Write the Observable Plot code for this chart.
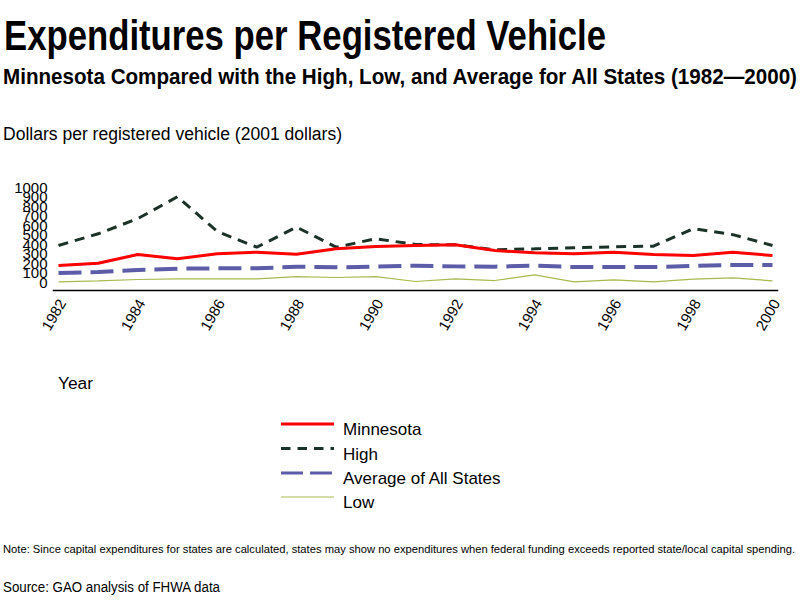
<!DOCTYPE html>
<html>
<head>
<meta charset="utf-8">
<script src="https://cdn.jsdelivr.net/npm/d3@7"></script>
<script src="https://cdn.jsdelivr.net/npm/@observablehq/plot@0.6"></script>
<style>
  html, body { margin: 0; padding: 0; background: #fff; }
  body { width: 800px; height: 600px; position: relative; overflow: hidden; font-family: "Liberation Sans", Arial, sans-serif; color: #000; }
  .t { position: absolute; white-space: nowrap; line-height: 1; transform-origin: 0 0; }
  #chart { position: absolute; left: 0; top: 170px; }
  #legend { position: absolute; left: 0; top: 410px; }
</style>
</head>
<body>
<div class="t" id="title" data-x="4" data-base="51" data-size="42" data-w="602" style="font-weight:bold">Expenditures per Registered Vehicle</div>
<div class="t" id="subtitle" data-x="3" data-base="85" data-size="22" data-w="794" style="font-weight:bold">Minnesota Compared with the High, Low, and Average for All States (1982—2000)</div>
<div class="t" id="ylabel" data-x="3" data-base="140" data-size="18" data-w="339">Dollars per registered vehicle (2001 dollars)</div>
<div class="t" id="xlabel" data-x="58" data-base="390" data-size="16" data-w="35">Year</div>
<div class="t" id="note" data-x="3" data-base="553" data-size="11" data-w="792">Note: Since capital expenditures for states are calculated, states may show no expenditures when federal funding exceeds reported state/local capital spending.</div>
<div class="t" id="source" data-x="3" data-base="592" data-size="14" data-w="217">Source: GAO analysis of FHWA data</div>
<div id="chart"></div>
<div id="legend"></div>
<script>
const years = [1982,1983,1984,1985,1986,1987,1988,1989,1990,1991,1992,1993,1994,1995,1996,1997,1998,1999,2000];
const minnesota = [184,208,300,255,307,324,303,360,384,395,402,342,318,307,324,300,289,324,289];
const high      = [395,518,678,908,543,377,588,377,466,405,402,350,360,371,381,388,572,509,395];
const average   = [105,116,137,151,154,154,172,165,172,182,175,172,182,168,168,168,179,189,189];
const low       = [12,23,37,44,44,44,68,58,68,16,44,26,86,12,33,12,40,54,23];
const yTicks = [0,100,200,300,400,500,600,700,800,900,1000];
const xTicks = [1982,1984,1986,1988,1990,1992,1994,1996,1998,2000];

const seriesNames = ["Minnesota","High","Average of All States","Low"];
const seriesValues = [minnesota, high, average, low];
const styles = {
  "Minnesota": {stroke: "#ff0000", width: 3, dash: null},
  "High": {stroke: "#1a3326", width: 3, dash: "10,7"},
  "Average of All States": {stroke: "#5c5ca8", width: 4, dash: "23,9"},
  "Low": {stroke: "#a6ba50", width: 1.2, dash: null}
};

const data = [];
seriesNames.forEach((s, i) => years.forEach((y, j) => data.push({series: s, year: y, value: seriesValues[i][j]})));

// text placement
document.querySelectorAll(".t").forEach(el => {
  const fs = +el.dataset.size;
  el.style.fontSize = fs + "px";
  el.style.left = el.dataset.x + "px";
  el.style.top = (+el.dataset.base - 0.8465 * fs) + "px";
  const w = el.getBoundingClientRect().width;
  const target = +el.dataset.w;
  if (w > 0) el.style.transform = `scaleX(${target / w})`;
});

const order = ["Low","Average of All States","High","Minnesota"];
const marks = [
  Plot.frame({anchor: "bottom", stroke: "#000", strokeWidth: 1.5}),
  Plot.axisY({ticks: yTicks, tickFormat: "d", tickSize: 0, tickPadding: 6, label: null, fontSize: 15}),
  Plot.axisX({ticks: xTicks, tickFormat: "d", tickSize: 0, tickPadding: 10, tickRotate: -60, label: null, fontSize: 15, dx: 4})
];
order.forEach(s => {
  const st = styles[s];
  marks.push(Plot.line(data.filter(d => d.series === s), {
    x: "year", y: "value", stroke: st.stroke, strokeWidth: st.width,
    strokeDasharray: st.dash, strokeLinejoin: "miter", strokeLinecap: "butt"
  }));
});

const chart = Plot.plot({
  width: 800,
  height: 190,
  marginLeft: 53,
  marginRight: 23,
  marginTop: 17.5,
  marginBottom: 70,
  insetLeft: 5,
  insetRight: 5,
  insetBottom: 7.5,
  style: {fontFamily: "Liberation Sans, Arial, sans-serif", color: "#000", background: "#fff", overflow: "visible"},
  x: {domain: [1982, 2000]},
  y: {domain: [0, 1000]},
  marks
});
document.getElementById("chart").appendChild(chart);

// legend
const lg = d3.select("#legend").append("svg").attr("width", 800).attr("height", 110)
  .style("font-family", "Liberation Sans, Arial, sans-serif");
const rows = [
  {name: "Minnesota", y: 14},
  {name: "High", y: 38.5},
  {name: "Average of All States", y: 63},
  {name: "Low", y: 87}
];
rows.forEach(r => {
  const st = styles[r.name];
  lg.append("line").attr("x1", 281).attr("x2", 334).attr("y1", r.y).attr("y2", r.y)
    .attr("stroke", st.stroke).attr("stroke-width", st.width < 2 ? 1 : 3)
    .attr("stroke-dasharray", r.name === "High" ? "9.5,7" : (r.name === "Average of All States" ? "22,7" : null));
  lg.append("text").attr("x", 343).attr("y", r.y + 11).attr("font-size", 17).attr("fill", "#000").text(r.name);
});
</script>
</body>
</html>
